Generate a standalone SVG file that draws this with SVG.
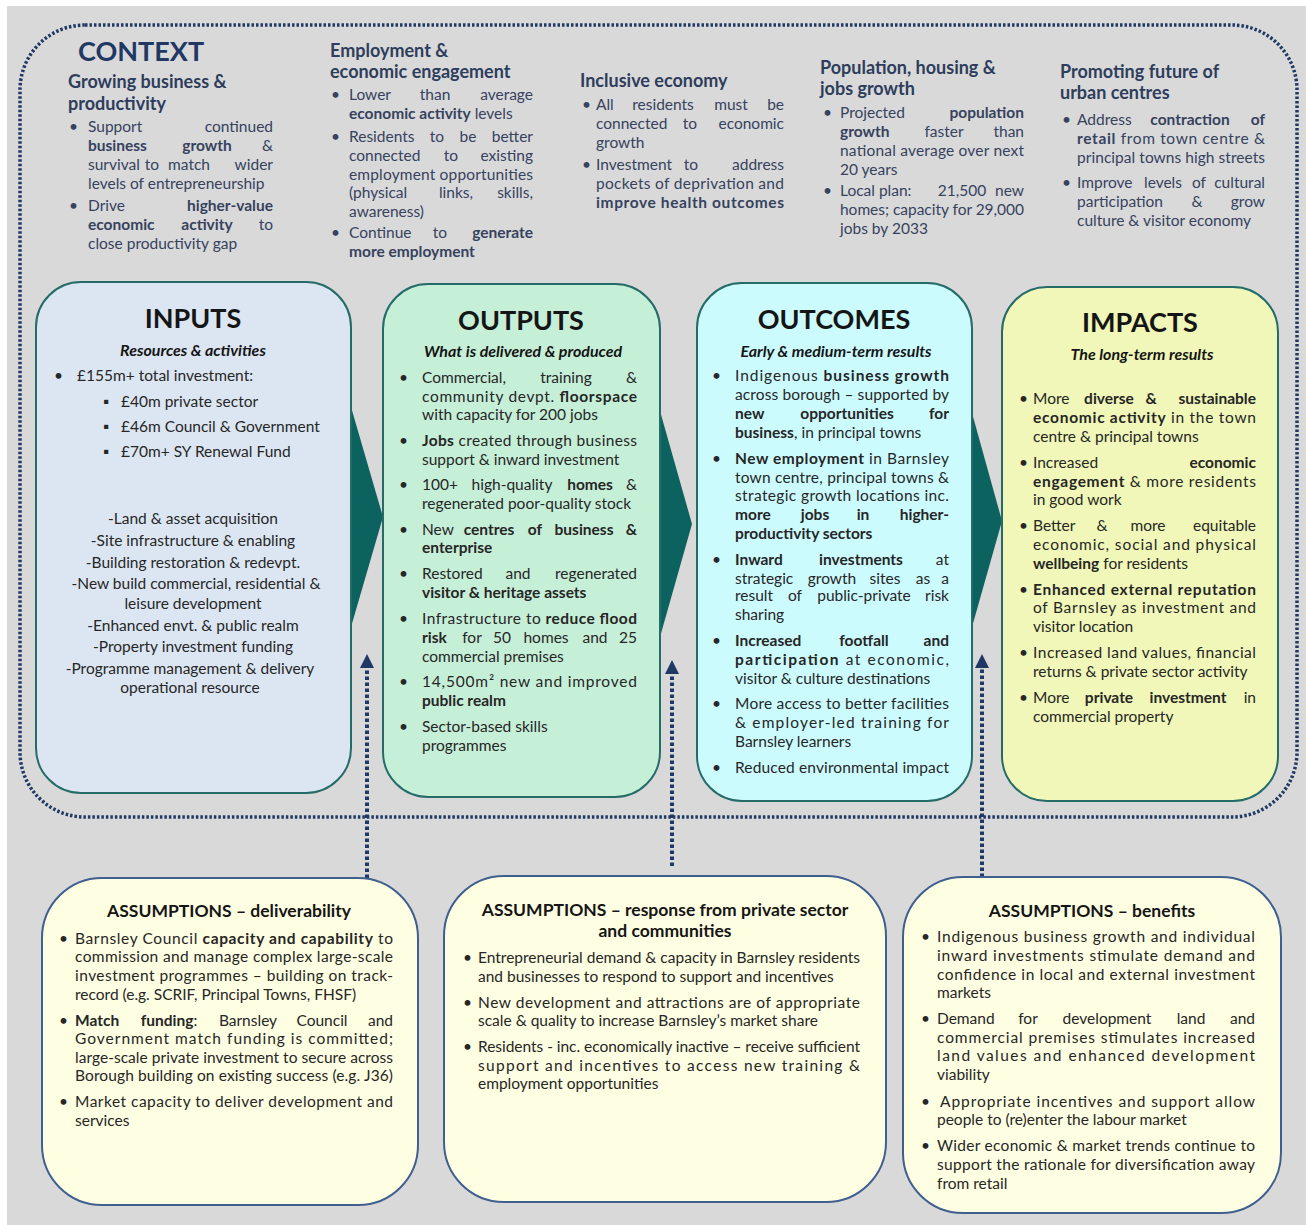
<svg xmlns="http://www.w3.org/2000/svg" width="1306" height="1225" viewBox="0 0 1306 1225">
<defs>
<style>
text { font-family: Lato, "Open Sans", "Liberation Sans", sans-serif; }
.c { font-size: 15.5px; fill: #36425e; }
.ch { font-size: 18px; font-weight: 700; fill: #2e3d5c; }
.ct { font-size: 27px; font-weight: 700; fill: #1f3864; }
.t { font-size: 15.5px; fill: #262626; }
.h { font-size: 27px; font-weight: 700; fill: #151515; text-anchor: middle; }
.s { font-size: 16px; font-weight: 700; font-style: italic; fill: #151515; text-anchor: middle; }
.ah { font-size: 17.5px; font-weight: 700; fill: #151515; text-anchor: middle; }
.b { font-weight: 700; }
.e { text-anchor: end; }
.m { text-anchor: middle; }
.box { stroke: #256b68; stroke-width: 2; }
.abox { fill: #fefee2; stroke: #3f5f8f; stroke-width: 2; }
.dot { stroke: #1f3864; stroke-width: 3.5; stroke-dasharray: 2.5 2; fill: none; }
.darr { stroke: #1f3864; stroke-width: 4; stroke-dasharray: 3.5 2.5; fill: none; }
.chev { fill: #0b625e; }
</style>
<marker id="ah" viewBox="0 0 10 10" refX="0" refY="5" markerWidth="14" markerHeight="14" markerUnits="userSpaceOnUse" orient="auto">
<path d="M0,0 L10,5 L0,10 z" fill="#1f3864"/>
</marker>
</defs>
<rect x="0" y="0" width="1306" height="1225" fill="#ffffff"/>
<rect x="7" y="6" width="1299" height="1219" fill="#d9d9d9"/>

<g id="context">
<rect x="20" y="25" width="1277" height="792" rx="65" fill="#ffffff" class="dot"/>
<text class="ct" x="78" y="61">CONTEXT</text>
</g>

<g id="ctx-growing">
<text class="ch" x="68" y="88">Growing business &amp;</text>
<text class="ch" x="68" y="110">productivity</text>
<text class="c" x="69" y="132">•</text>
<text class="c" x="88" y="132">Support</text><text class="c e" x="273" y="132">continued</text>
<text class="c b" x="88" y="151">business</text><text class="c b m" x="207" y="151">growth</text><text class="c e" x="273" y="151">&amp;</text>
<text class="c" x="88" y="170">survival</text><text class="c m" x="152" y="170">to</text><text class="c m" x="189" y="170">match</text><text class="c e" x="273" y="170">wider</text>
<text class="c" x="88" y="189">levels of entrepreneurship</text>
<text class="c" x="69" y="211">•</text>
<text class="c" x="88" y="211">Drive</text><text class="c b e" x="273" y="211">higher-value</text>
<text class="c b" x="88" y="230">economic</text><text class="c b m" x="207" y="230">activity</text><text class="c e" x="273" y="230">to</text>
<text class="c" x="88" y="249">close productivity gap</text>
</g>

<g id="ctx-employment">
<text class="ch" x="330" y="57">Employment &amp;</text>
<text class="ch" x="330" y="78">economic engagement</text>
<text class="c" x="331" y="100">•</text>
<text class="c" x="349" y="100">Lower</text><text class="c m" x="435" y="100">than</text><text class="c e" x="533" y="100">average</text>
<text class="c" x="349" y="119"><tspan class="b">economic activity</tspan> levels</text>
<text class="c" x="331" y="142">•</text>
<text class="c" x="349" y="142">Residents</text><text class="c m" x="437" y="142">to</text><text class="c m" x="468" y="142">be</text><text class="c e" x="533" y="142">better</text>
<text class="c" x="349" y="161">connected</text><text class="c m" x="451" y="161">to</text><text class="c e" x="533" y="161">existing</text>
<text class="c" x="349" y="180" textLength="184" lengthAdjust="spacing">employment opportunities</text>
<text class="c" x="349" y="198">(physical</text><text class="c m" x="456" y="198">links,</text><text class="c e" x="533" y="198">skills,</text>
<text class="c" x="349" y="217">awareness)</text>
<text class="c" x="331" y="238">•</text>
<text class="c" x="349" y="238">Continue</text><text class="c m" x="440" y="238">to</text><text class="c b e" x="533" y="238">generate</text>
<text class="c b" x="349" y="257">more employment</text>
</g>

<g id="ctx-inclusive">
<text class="ch" x="580" y="87">Inclusive economy</text>
<text class="c" x="582" y="110">•</text>
<text class="c" x="596" y="110">All</text><text class="c m" x="663" y="110">residents</text><text class="c m" x="731" y="110">must</text><text class="c e" x="784" y="110">be</text>
<text class="c" x="596" y="129">connected</text><text class="c m" x="690" y="129">to</text><text class="c e" x="784" y="129">economic</text>
<text class="c" x="596" y="148">growth</text>
<text class="c" x="582" y="170">•</text>
<text class="c" x="596" y="170">Investment</text><text class="c m" x="691" y="170">to</text><text class="c e" x="784" y="170">address</text>
<text class="c" x="596" y="189" textLength="188" lengthAdjust="spacing">pockets of deprivation and</text>
<text class="c b" x="596" y="208" textLength="188" lengthAdjust="spacing">improve health outcomes</text>
</g>

<g id="ctx-population">
<text class="ch" x="820" y="74">Population, housing &amp;</text>
<text class="ch" x="820" y="95">jobs growth</text>
<text class="c" x="823" y="118">•</text>
<text class="c" x="840" y="118">Projected</text><text class="c b e" x="1024" y="118">population</text>
<text class="c b" x="840" y="137">growth</text><text class="c m" x="944" y="137">faster</text><text class="c e" x="1024" y="137">than</text>
<text class="c" x="840" y="156" textLength="184" lengthAdjust="spacing">national average over next</text>
<text class="c" x="840" y="175">20 years</text>
<text class="c" x="823" y="196">•</text>
<text class="c" x="840" y="196">Local plan:</text><text class="c m" x="962" y="196">21,500</text><text class="c e" x="1024" y="196">new</text>
<text class="c" x="840" y="215" textLength="184" lengthAdjust="spacing">homes; capacity for 29,000</text>
<text class="c" x="840" y="234">jobs by 2033</text>
</g>

<g id="ctx-urban">
<text class="ch" x="1060" y="78">Promoting future of</text>
<text class="ch" x="1060" y="99">urban centres</text>
<text class="c" x="1062" y="125">•</text>
<text class="c" x="1077" y="125">Address</text><text class="c b m" x="1190" y="125">contraction</text><text class="c b e" x="1265" y="125">of</text>
<text class="c" x="1077" y="144" textLength="188" lengthAdjust="spacing"><tspan class="b">retail</tspan> from town centre &amp;</text>
<text class="c" x="1077" y="163" textLength="188" lengthAdjust="spacing">principal towns high streets</text>
<text class="c" x="1062" y="188">•</text>
<text class="c" x="1077" y="188">Improve</text><text class="c m" x="1163" y="188">levels</text><text class="c m" x="1199" y="188">of</text><text class="c e" x="1265" y="188">cultural</text>
<text class="c" x="1077" y="207">participation</text><text class="c m" x="1197" y="207">&amp;</text><text class="c e" x="1265" y="207">grow</text>
<text class="c" x="1077" y="226">culture &amp; visitor economy</text>
</g>

<g id="connectors">
<polygon class="chev" points="351,407 383,517 351,627"/>
<polygon class="chev" points="660,411 692,524 660,637"/>
<polygon class="chev" points="972,413 1002,521 972,627"/>
<line class="darr" x1="367" y1="878" x2="367" y2="668" marker-end="url(#ah)"/>
<line class="darr" x1="672" y1="866" x2="672" y2="674" marker-end="url(#ah)"/>
<line class="darr" x1="982" y1="877" x2="982" y2="668" marker-end="url(#ah)"/>
</g>

<g id="inputs">
<rect class="box" x="36" y="282" width="315" height="511" rx="45" fill="#dce6f2"/>
<text class="h" x="193" y="328">INPUTS</text>
<text class="s" x="193" y="356">Resources &amp; activities</text>
<text class="t" x="54" y="381">•</text>
<text class="t" x="77" y="381">£155m+ total investment:</text>
<text class="t" x="103" y="407">▪</text><text class="t" x="121" y="407">£40m private sector</text>
<text class="t" x="103" y="432">▪</text><text class="t" x="121" y="432">£46m Council &amp; Government</text>
<text class="t" x="103" y="457">▪</text><text class="t" x="121" y="457">£70m+ SY Renewal Fund</text>
<text class="t m" x="193" y="524">-Land &amp; asset acquisition</text>
<text class="t m" x="193" y="546">-Site infrastructure &amp; enabling</text>
<text class="t m" x="193" y="568">-Building restoration &amp; redevpt.</text>
<text class="t m" x="196" y="589">-New build commercial, residential &amp;</text>
<text class="t m" x="193" y="609">leisure development</text>
<text class="t m" x="193" y="631">-Enhanced envt. &amp; public realm</text>
<text class="t m" x="193" y="652">-Property investment funding</text>
<text class="t m" x="190" y="674">-Programme management &amp; delivery</text>
<text class="t m" x="190" y="693">operational resource</text>
</g>

<g id="outputs">
<rect class="box" x="383" y="284" width="277" height="513" rx="45" fill="#c6efd8"/>
<text class="h" x="521" y="330">OUTPUTS</text>
<text class="s" x="523" y="357">What is delivered &amp; produced</text>
<text class="t" x="399" y="383">•</text>
<text class="t" x="422" y="383">Commercial,</text><text class="t m" x="566" y="383">training</text><text class="t e" x="637" y="383">&amp;</text>
<text class="t" x="422" y="402" textLength="215" lengthAdjust="spacing">community devpt. <tspan class="b">floorspace</tspan></text>
<text class="t" x="422" y="420">with capacity for 200 jobs</text>
<text class="t" x="399" y="446">•</text>
<text class="t" x="422" y="446" textLength="215" lengthAdjust="spacing"><tspan class="b">Jobs</tspan> created through business</text>
<text class="t" x="422" y="465">support &amp; inward investment</text>
<text class="t" x="399" y="490">•</text>
<text class="t" x="422" y="490">100+</text><text class="t m" x="512" y="490">high-quality</text><text class="t b m" x="590" y="490">homes</text><text class="t e" x="637" y="490">&amp;</text>
<text class="t" x="422" y="509">regenerated poor-quality stock</text>
<text class="t" x="399" y="535">•</text>
<text class="t" x="422" y="535">New</text><text class="t b m" x="489" y="535">centres</text><text class="t b m" x="535" y="535">of</text><text class="t b m" x="584" y="535">business</text><text class="t b e" x="637" y="535">&amp;</text>
<text class="t b" x="422" y="553">enterprise</text>
<text class="t" x="399" y="579">•</text>
<text class="t" x="422" y="579">Restored</text><text class="t m" x="518" y="579">and</text><text class="t e" x="637" y="579">regenerated</text>
<text class="t b" x="422" y="598">visitor &amp; heritage assets</text>
<text class="t" x="399" y="624">•</text>
<text class="t" x="422" y="624" textLength="215" lengthAdjust="spacing">Infrastructure to <tspan class="b">reduce flood</tspan></text>
<text class="t b" x="422" y="643">risk</text><text class="t m" x="472" y="643">for</text><text class="t m" x="502" y="643">50</text><text class="t m" x="546" y="643">homes</text><text class="t m" x="595" y="643">and</text><text class="t e" x="637" y="643">25</text>
<text class="t" x="422" y="662">commercial premises</text>
<text class="t" x="399" y="687">•</text>
<text class="t" x="422" y="687" textLength="215" lengthAdjust="spacing">14,500m² new and improved</text>
<text class="t b" x="422" y="706">public realm</text>
<text class="t" x="399" y="732">•</text>
<text class="t" x="422" y="732">Sector-based skills</text>
<text class="t" x="422" y="751">programmes</text>
</g>

<g id="outcomes">
<rect class="box" x="697" y="283" width="275" height="518" rx="45" fill="#ccfbfe"/>
<text class="h" x="834" y="329">OUTCOMES</text>
<text class="s" x="836" y="357">Early &amp; medium-term results</text>
<text class="t" x="712" y="381">•</text>
<text class="t" x="735" y="381" textLength="214" lengthAdjust="spacing">Indigenous <tspan class="b">business growth</tspan></text>
<text class="t" x="735" y="400" textLength="214" lengthAdjust="spacing">across borough – supported by</text>
<text class="t b" x="735" y="419">new</text><text class="t b m" x="847" y="419">opportunities</text><text class="t b e" x="949" y="419">for</text>
<text class="t" x="735" y="438"><tspan class="b">business</tspan>, in principal towns</text>
<text class="t" x="712" y="464">•</text>
<text class="t" x="735" y="464" textLength="214" lengthAdjust="spacing"><tspan class="b">New employment</tspan> in Barnsley</text>
<text class="t" x="735" y="483" textLength="214" lengthAdjust="spacing">town centre, principal towns &amp;</text>
<text class="t" x="735" y="501" textLength="214" lengthAdjust="spacing">strategic growth locations inc.</text>
<text class="t b" x="735" y="520">more</text><text class="t b m" x="815" y="520">jobs</text><text class="t b m" x="863" y="520">in</text><text class="t b e" x="949" y="520">higher-</text>
<text class="t b" x="735" y="539">productivity sectors</text>
<text class="t" x="712" y="565">•</text>
<text class="t b" x="735" y="565">Inward</text><text class="t b m" x="861" y="565">investments</text><text class="t e" x="949" y="565">at</text>
<text class="t" x="735" y="584">strategic</text><text class="t m" x="832" y="584">growth</text><text class="t m" x="885" y="584">sites</text><text class="t m" x="923" y="584">as</text><text class="t e" x="949" y="584">a</text>
<text class="t" x="735" y="601">result</text><text class="t m" x="795" y="601">of</text><text class="t m" x="864" y="601">public-private</text><text class="t e" x="949" y="601">risk</text>
<text class="t" x="735" y="620">sharing</text>
<text class="t" x="712" y="646">•</text>
<text class="t b" x="735" y="646">Increased</text><text class="t b m" x="864" y="646">footfall</text><text class="t b e" x="949" y="646">and</text>
<text class="t" x="735" y="665" textLength="214" lengthAdjust="spacing"><tspan class="b">participation</tspan> at economic,</text>
<text class="t" x="735" y="684">visitor &amp; culture destinations</text>
<text class="t" x="712" y="709">•</text>
<text class="t" x="735" y="709" textLength="214" lengthAdjust="spacing">More access to better facilities</text>
<text class="t" x="735" y="728" textLength="214" lengthAdjust="spacing">&amp; employer-led training for</text>
<text class="t" x="735" y="747">Barnsley learners</text>
<text class="t" x="712" y="773">•</text>
<text class="t" x="735" y="773" textLength="214" lengthAdjust="spacing">Reduced environmental impact</text>
</g>

<g id="impacts">
<rect class="box" x="1002" y="287" width="276" height="514" rx="45" fill="#f0f7b8"/>
<text class="h" x="1140" y="332">IMPACTS</text>
<text class="s" x="1142" y="360">The long-term results</text>
<text class="t" x="1019" y="404">•</text>
<text class="t" x="1033" y="404">More</text><text class="t b m" x="1109" y="404">diverse</text><text class="t b m" x="1151" y="404">&amp;</text><text class="t b e" x="1256" y="404">sustainable</text>
<text class="t" x="1033" y="423" textLength="223" lengthAdjust="spacing"><tspan class="b">economic activity</tspan> in the town</text>
<text class="t" x="1033" y="442">centre &amp; principal towns</text>
<text class="t" x="1019" y="468">•</text>
<text class="t" x="1033" y="468">Increased</text><text class="t b e" x="1256" y="468">economic</text>
<text class="t" x="1033" y="487" textLength="223" lengthAdjust="spacing"><tspan class="b">engagement</tspan> &amp; more residents</text>
<text class="t" x="1033" y="505">in good work</text>
<text class="t" x="1019" y="531">•</text>
<text class="t" x="1033" y="531">Better</text><text class="t m" x="1102" y="531">&amp;</text><text class="t m" x="1148" y="531">more</text><text class="t e" x="1256" y="531">equitable</text>
<text class="t" x="1033" y="550" textLength="223" lengthAdjust="spacing">economic, social and physical</text>
<text class="t" x="1033" y="569"><tspan class="b">wellbeing</tspan> for residents</text>
<text class="t" x="1019" y="595">•</text>
<text class="t b" x="1033" y="595" textLength="223" lengthAdjust="spacing">Enhanced external reputation</text>
<text class="t" x="1033" y="613" textLength="223" lengthAdjust="spacing">of Barnsley as investment and</text>
<text class="t" x="1033" y="632">visitor location</text>
<text class="t" x="1019" y="658">•</text>
<text class="t" x="1033" y="658" textLength="223" lengthAdjust="spacing">Increased land values, financial</text>
<text class="t" x="1033" y="677">returns &amp; private sector activity</text>
<text class="t" x="1019" y="703">•</text>
<text class="t" x="1033" y="703">More</text><text class="t b m" x="1109" y="703">private</text><text class="t b m" x="1188" y="703">investment</text><text class="t e" x="1256" y="703">in</text>
<text class="t" x="1033" y="722">commercial property</text>
</g>

<g id="assump-deliverability">
<rect class="abox" x="42" y="878" width="376" height="327" rx="60"/>
<text class="ah" x="229" y="917">ASSUMPTIONS – deliverability</text>
<text class="t" x="59" y="944">•</text>
<text class="t" x="75" y="944" textLength="318" lengthAdjust="spacing">Barnsley Council <tspan class="b">capacity and capability</tspan> to</text>
<text class="t" x="75" y="962" textLength="318" lengthAdjust="spacing">commission and manage complex large-scale</text>
<text class="t" x="75" y="981" textLength="318" lengthAdjust="spacing">investment programmes – building on track-</text>
<text class="t" x="75" y="1000">record (e.g. SCRIF, Principal Towns, FHSF)</text>
<text class="t" x="59" y="1026">•</text>
<text class="t b" x="75" y="1026">Match</text><text class="t m" x="169" y="1026"><tspan class="b">funding</tspan>:</text><text class="t m" x="248" y="1026">Barnsley</text><text class="t m" x="322" y="1026">Council</text><text class="t e" x="393" y="1026">and</text>
<text class="t" x="75" y="1044" textLength="318" lengthAdjust="spacing">Government match funding is committed;</text>
<text class="t" x="75" y="1063" textLength="318" lengthAdjust="spacing">large-scale private investment to secure across</text>
<text class="t" x="75" y="1081" textLength="318" lengthAdjust="spacing">Borough building on existing success (e.g. J36)</text>
<text class="t" x="59" y="1107">•</text>
<text class="t" x="75" y="1107" textLength="318" lengthAdjust="spacing">Market capacity to deliver development and</text>
<text class="t" x="75" y="1126">services</text>
</g>

<g id="assump-response">
<rect class="abox" x="444" y="876" width="442" height="326" rx="60"/>
<text class="ah" x="665" y="916">ASSUMPTIONS – response from private sector</text>
<text class="ah" x="665" y="937">and communities</text>
<text class="t" x="463" y="963">•</text>
<text class="t" x="478" y="963" textLength="382" lengthAdjust="spacing">Entrepreneurial demand &amp; capacity in Barnsley residents</text>
<text class="t" x="478" y="982">and businesses to respond to support and incentives</text>
<text class="t" x="463" y="1008">•</text>
<text class="t" x="478" y="1008" textLength="382" lengthAdjust="spacing">New development and attractions are of appropriate</text>
<text class="t" x="478" y="1026">scale &amp; quality to increase Barnsley’s market share</text>
<text class="t" x="463" y="1052">•</text>
<text class="t" x="478" y="1052" textLength="382" lengthAdjust="spacing">Residents - inc. economically inactive – receive sufficient</text>
<text class="t" x="478" y="1071" textLength="382" lengthAdjust="spacing">support and incentives to access new training &amp;</text>
<text class="t" x="478" y="1089">employment opportunities</text>
</g>

<g id="assump-benefits">
<rect class="abox" x="903" y="877" width="378" height="336" rx="60"/>
<text class="ah" x="1092" y="917">ASSUMPTIONS – benefits</text>
<text class="t" x="921" y="942">•</text>
<text class="t" x="937" y="942" textLength="318" lengthAdjust="spacing">Indigenous business growth and individual</text>
<text class="t" x="937" y="961" textLength="318" lengthAdjust="spacing">inward investments stimulate demand and</text>
<text class="t" x="937" y="980" textLength="318" lengthAdjust="spacing">confidence in local and external investment</text>
<text class="t" x="937" y="998">markets</text>
<text class="t" x="921" y="1024">•</text>
<text class="t" x="937" y="1024">Demand</text><text class="t m" x="1028" y="1024">for</text><text class="t m" x="1107" y="1024">development</text><text class="t m" x="1191" y="1024">land</text><text class="t e" x="1255" y="1024">and</text>
<text class="t" x="937" y="1043" textLength="318" lengthAdjust="spacing">commercial premises stimulates increased</text>
<text class="t" x="937" y="1061" textLength="318" lengthAdjust="spacing">land values and enhanced development</text>
<text class="t" x="937" y="1080">viability</text>
<text class="t" x="921" y="1107">•</text>
<text class="t" x="940" y="1107" textLength="315" lengthAdjust="spacing">Appropriate incentives and support allow</text>
<text class="t" x="937" y="1125">people to (re)enter the labour market</text>
<text class="t" x="921" y="1151">•</text>
<text class="t" x="937" y="1151" textLength="318" lengthAdjust="spacing">Wider economic &amp; market trends continue to</text>
<text class="t" x="937" y="1170" textLength="318" lengthAdjust="spacing">support the rationale for diversification away</text>
<text class="t" x="937" y="1189">from retail</text>
</g>
</svg>
